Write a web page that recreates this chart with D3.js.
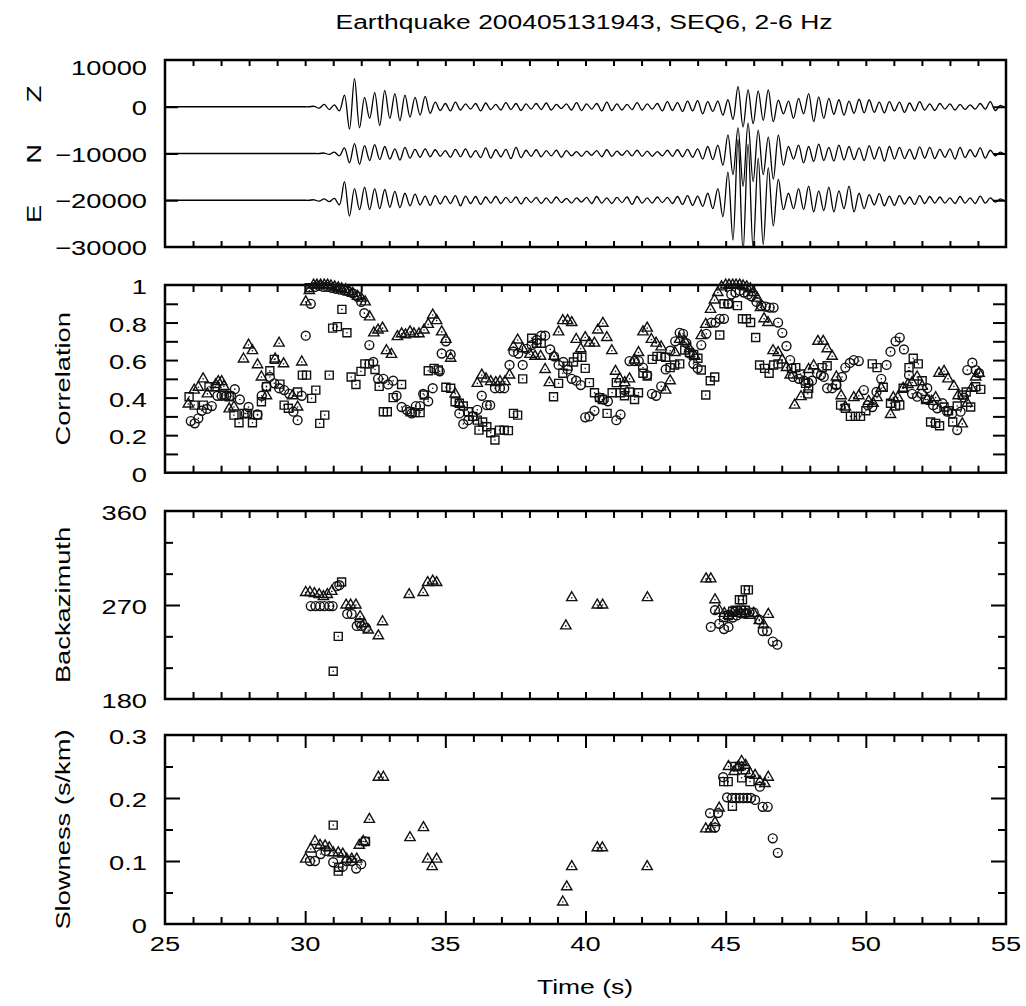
<!DOCTYPE html>
<html><head><meta charset="utf-8">
<script src="https://cdn.jsdelivr.net/npm/d3@7"></script>
<style>
body{margin:0;background:#fff}
svg{display:block}
text{font-family:"Liberation Sans",Arial,Helvetica,sans-serif;fill:#000}
</style>
</head><body>
<svg id="c" width="1026" height="1006"></svg>
<script>
// ---------------- DATA ----------------
const title = "Earthquake 200405131943, SEQ6, 2-6 Hz";
const xTicksMajor = [25, 30, 35, 40, 45, 50, 55];
const traceNames = ["Z", "N", "E"];
const traceOffsets = [0, -10000, -20000];
const traceStart = 29.6, traceStep = 0.18; // time of first listed extremum, spacing of extrema
const traceZ = [0,0,0,0,100,-300,500,-600,400,-900,
 2500,-4800,6000,-4500,2000,-2500,3000,-4000,3500,-2500,
 2800,-3000,2500,-2200,2000,-1800,2200,-1400,1000,-800,
 700,-900,1000,-700,600,-500,700,-900,800,-600,
 500,-700,900,-600,700,-800,600,-500,700,-600,
 800,-700,500,-400,600,-700,900,-800,600,-500,
 700,-900,1000,-800,600,-700,500,-600,900,-700,
 600,-500,700,-900,1100,-800,900,-1000,1200,-900,
 1300,-1500,1100,-1000,1200,-1800,1500,-2700,4300,-4300,
 3600,-3600,3400,-2900,3600,-3200,1400,-1500,1200,-2500,
 1800,-1500,2800,-3200,2100,-2500,1800,-1600,1500,-1800,
 1200,-1400,1600,-1300,1500,-1200,1000,-1300,1100,-900,
 1000,-1200,800,-900,1100,-700,600,-800,700,-500,
 600,-700,500,-600,400,-500,700,-500,1100,-800,300,-200];
const traceN = [0,0,0,0,0,0,100,-200,300,-500,
 1200,-2000,2100,-2300,1700,-1500,1900,-1300,1500,-1200,
 1000,-1400,1300,-1000,900,-800,1000,-700,800,-600,
 600,-800,900,-700,1000,-800,600,-900,1200,-1000,
 800,-700,900,-1100,1300,-900,700,-600,800,-700,
 600,-500,700,-800,600,-500,400,-600,500,-400,
 600,-700,800,-600,500,-400,600,-500,700,-600,
 500,-600,400,-500,700,-600,800,-700,900,-800,
 1000,-1200,1500,-1300,1800,-2500,4000,-4500,5500,-7000,
 6500,-6000,5000,-4500,3500,-5500,4000,-2500,1500,-1200,
 1800,-2000,1500,-1700,2000,-1500,1300,-1600,1800,-1400,
 1500,-1300,1200,-1500,1700,-1200,1400,-1600,1500,-1200,
 1300,-1100,900,-1200,1400,-1000,1300,-1100,900,-800,
 1000,-1200,1300,-900,800,-700,1200,-1000,700,-500,300,-200];
const traceE = [0,0,0,0,100,-200,300,-300,400,-1000,
 4000,-3400,2500,-2000,2800,-2000,2500,-1800,2300,-1500,
 1900,-1600,1500,-1200,1300,-1000,900,-1100,1000,-800,
 900,-700,1000,-1200,900,-700,800,-900,700,-600,
 800,-700,600,-500,700,-800,600,-500,600,-700,
 500,-600,700,-500,400,-600,500,-400,600,-700,
 800,-600,500,-700,600,-500,700,-900,800,-600,
 500,-600,700,-500,600,-700,800,-900,1000,-1100,
 900,-1300,1500,-1800,2500,-3500,6000,-8500,13000,-11000,
 12000,-10500,9000,-9500,7000,-5500,4500,-2000,1500,-1800,
 2500,-2000,3000,-2500,2000,-2200,2800,-2500,2000,-1800,
 3000,-2500,1500,-1800,1200,-1000,1400,-1200,900,-1100,
 1000,-800,700,-900,1000,-700,800,-600,700,-600,
 500,-700,800,-600,500,-700,900,-600,500,-400,300,-200];

// Correlation [time, value]
const corrCircle = [[25.92,.275],[26.06,.263],[26.19,.29],[26.31,.33],[26.5,.34],[26.67,.355],[26.87,.41],[27.02,.41],[27.19,.41],[27.35,.41],[27.49,.445],[27.67,.39],[27.88,.315],[27.98,.35],[28.3,.31],[28.45,.41],[28.62,.46],[28.74,.51],[28.9,.476],[29.07,.45],[29.25,.44],[29.43,.42],[29.58,.325],[29.73,.28],[29.88,.41],[30.02,.73],[30.2,.9],[30.35,.99],[30.5,.995],[30.65,.99],[30.8,.99],[30.95,.985],[31.1,.98],[31.25,.975],[31.4,.97],[31.55,.965],[31.7,.955],[31.85,.94],[32.0,.91],[32.11,.85],[32.29,.68],[32.43,.59],[32.6,.5],[32.79,.5],[32.96,.47],[33.14,.49],[33.26,.41],[33.44,.35],[33.62,.335],[33.8,.316],[33.95,.355],[34.1,.355],[34.21,.42],[34.39,.38],[34.55,.45],[34.8,.54],[34.87,.635],[35.02,.7],[35.19,.63],[35.5,.316],[35.64,.26],[35.82,.28],[35.98,.3],[36.14,.335],[36.3,.41],[36.48,.36],[36.6,.36],[36.77,.45],[36.95,.45],[37.1,.45],[37.29,.574],[37.43,.645],[37.6,.635],[37.76,.574],[37.9,.66],[38.08,.68],[38.26,.707],[38.42,.73],[38.56,.73],[38.74,.657],[38.88,.62],[39.04,.574],[39.21,.59],[39.36,.55],[39.51,.5],[39.67,.49],[39.83,.467],[39.99,.295],[40.14,.3],[40.32,.33],[40.5,.4],[40.65,.39],[40.8,.38],[41.1,.28],[41.25,.31],[41.39,.44],[41.57,.595],[41.75,.595],[41.9,.595],[42.05,.56],[42.2,.52],[42.37,.42],[42.52,.41],[42.7,.46],[42.86,.55],[43.02,.65],[43.2,.7],[43.36,.745],[43.48,.74],[43.6,.69],[43.71,.636],[43.85,.58],[44.0,.556],[44.13,.68],[44.31,.74],[44.49,.8],[44.64,.8],[44.79,.82],[44.94,.82],[45.08,.9],[45.2,.95],[45.35,.96],[45.5,.97],[45.65,.96],[45.8,.95],[45.92,.94],[46.1,.91],[46.27,.89],[46.43,.885],[46.57,.88],[46.71,.88],[46.87,.8],[47.02,.745],[47.17,.675],[47.3,.6],[47.4,.51],[47.61,.5],[47.79,.49],[47.95,.48],[48.08,.49],[48.26,.53],[48.4,.52],[48.5,.51],[48.62,.45],[48.8,.45],[48.95,.467],[49.15,.51],[49.27,.56],[49.43,.585],[49.57,.6],[49.75,.595],[49.93,.44],[50.07,.36],[50.23,.35],[50.38,.43],[50.55,.5],[50.74,.574],[50.88,.645],[51.06,.7],[51.21,.72],[51.36,.657],[51.54,.52],[51.65,.42],[51.83,.405],[52.0,.42],[52.19,.45],[52.4,.36],[52.55,.343],[52.73,.37],[52.9,.325],[53.08,.316],[53.26,.227],[53.38,.325],[53.5,.4],[53.62,.547],[53.8,.586],[53.92,.547],[54.04,.53]];
const corrSquare = [[25.86,.405],[26.04,.36],[26.37,.36],[26.57,.458],[26.79,.458],[27.11,.414],[27.29,.405],[27.46,.307],[27.64,.266],[27.82,.316],[27.94,.316],[28.12,.266],[28.3,.307],[28.44,.378],[28.62,.458],[28.74,.543],[28.9,.604],[29.1,.472],[29.25,.36],[29.4,.343],[29.73,.43],[29.9,.52],[30.05,.52],[30.14,.985],[30.23,.396],[30.38,.44],[30.52,.263],[30.7,.307],[30.86,.52],[30.98,.77],[31.15,.778],[31.31,.87],[31.49,.746],[31.64,.51],[31.81,.47],[31.99,.54],[32.13,.58],[32.29,.58],[32.49,.55],[32.64,.46],[32.79,.325],[32.93,.325],[33.14,.4],[33.44,.47],[33.74,.325],[33.92,.32],[34.1,.32],[34.25,.414],[34.39,.543],[34.6,.556],[34.75,.547],[35.02,.455],[35.19,.45],[35.35,.378],[35.5,.37],[35.64,.355],[35.82,.325],[35.98,.3],[36.14,.28],[36.2,.227],[36.33,.27],[36.48,.245],[36.62,.213],[36.77,.174],[36.93,.227],[37.1,.227],[37.25,.224],[37.43,.316],[37.58,.307],[37.76,.5],[38.08,.716],[38.26,.69],[38.42,.69],[38.86,.405],[39.04,.476],[39.19,.53],[39.37,.568],[39.57,.59],[39.71,.615],[39.87,.615],[39.99,.556],[40.14,.48],[40.32,.426],[40.5,.4],[40.6,.39],[40.77,.316],[40.95,.426],[41.1,.48],[41.24,.426],[41.39,.41],[41.57,.43],[41.75,.39],[41.89,.426],[42.05,.53],[42.2,.515],[42.38,.604],[42.55,.62],[42.7,.62],[42.86,.615],[43.02,.56],[43.18,.574],[43.36,.58],[43.54,.654],[43.71,.64],[43.86,.63],[44.01,.61],[44.13,.547],[44.29,.414],[44.45,.49],[44.61,.51],[44.79,.734],[44.94,.9],[45.11,.9],[45.42,.89],[45.6,.82],[45.74,.82],[45.89,.8],[46.07,.72],[46.21,.574],[46.39,.556],[46.55,.53],[46.71,.574],[46.87,.58],[47.35,.556],[47.5,.56],[47.67,.526],[47.85,.476],[47.93,.42],[47.96,.45],[48.44,.56],[48.62,.57],[48.95,.47],[49.1,.36],[49.27,.343],[49.45,.3],[49.63,.3],[49.81,.3],[50.0,.33],[50.23,.58],[50.4,.56],[50.62,.455],[50.88,.37],[51.06,.355],[51.21,.36],[51.33,.45],[51.54,.56],[51.69,.61],[51.87,.58],[52.01,.49],[52.13,.39],[52.31,.27],[52.49,.263],[52.63,.25],[52.79,.35],[52.95,.33],[53.1,.27],[53.26,.355],[53.44,.414],[53.58,.43],[53.74,.35],[53.92,.458],[54.1,.444]];
const corrTriangle = [[25.83,.366],[26.04,.44],[26.19,.455],[26.36,.5],[26.51,.42],[26.81,.47],[26.9,.485],[27.02,.485],[27.1,.46],[27.29,.34],[27.46,.35],[27.8,.606],[27.98,.68],[28.12,.65],[28.3,.575],[28.44,.51],[28.62,.41],[28.93,.606],[29.07,.69],[29.23,.58],[29.55,.41],[29.73,.35],[29.88,.59],[30.02,.91],[30.15,.97],[30.3,1],[30.42,1],[30.55,1],[30.68,1],[30.8,1],[30.92,.995],[31.05,.99],[31.18,.985],[31.3,.98],[31.45,.975],[31.57,.965],[31.7,.955],[31.87,.94],[32.0,.93],[32.14,.91],[32.3,.83],[32.45,.745],[32.6,.76],[32.76,.77],[32.9,.65],[33.08,.63],[33.29,.725],[33.44,.74],[33.58,.735],[33.74,.75],[33.88,.74],[34.06,.74],[34.24,.76],[34.39,.79],[34.55,.84],[34.69,.81],[34.87,.75],[35.02,.71],[35.19,.61],[35.35,.42],[35.5,.37],[36.14,.476],[36.3,.52],[36.45,.5],[36.62,.485],[36.8,.48],[36.95,.485],[37.13,.485],[37.29,.52],[37.43,.67],[37.58,.707],[37.76,.66],[38.02,.63],[38.2,.62],[38.4,.62],[38.56,.55],[38.71,.48],[38.88,.62],[39.04,.75],[39.19,.81],[39.36,.81],[39.51,.8],[39.67,.71],[39.83,.66],[39.99,.72],[40.14,.69],[40.32,.69],[40.44,.76],[40.62,.796],[40.76,.72],[40.94,.65],[41.07,.54],[41.22,.5],[41.4,.48],[41.57,.5],[41.75,.6],[41.89,.64],[42.05,.75],[42.2,.77],[42.35,.71],[42.52,.69],[42.7,.67],[42.86,.44],[43.02,.49],[43.19,.64],[43.36,.71],[43.54,.7],[43.71,.66],[43.9,.62],[44.13,.73],[44.29,.79],[44.46,.87],[44.6,.92],[44.72,.96],[44.85,.99],[45.0,1],[45.12,1],[45.25,1],[45.37,1],[45.5,1],[45.62,.995],[45.75,.99],[45.88,.98],[46.0,.96],[46.12,.93],[46.24,.88],[46.37,.82],[46.51,.8],[46.69,.65],[46.87,.64],[47.02,.6],[47.17,.56],[47.3,.52],[47.46,.36],[47.69,.405],[47.96,.55],[48.14,.57],[48.29,.7],[48.48,.7],[48.62,.66],[48.8,.62],[48.95,.51],[49.12,.41],[49.27,.35],[49.57,.4],[49.75,.41],[50.1,.38],[50.26,.37],[50.4,.4],[50.55,.45],[50.88,.31],[50.98,.4],[51.14,.4],[51.33,.45],[51.5,.47],[51.65,.48],[51.83,.51],[52.01,.46],[52.19,.39],[52.35,.38],[52.49,.4],[52.61,.53],[52.79,.54],[52.93,.5],[53.14,.46],[53.29,.41],[53.44,.26],[53.62,.37],[53.77,.45],[53.92,.51],[54.04,.53]];

// Backazimuth [time, degrees]
const bazCircle = [[30.2,269],[30.37,269],[30.53,269],[30.68,269],[30.86,269],[30.98,269],[31.13,288],[31.22,289],[31.5,261.5],[31.66,261.5],[31.84,250],[31.94,253],[32.0,250],[32.17,248],[44.47,249],[44.62,265],[44.77,252],[44.94,247],[45.1,249],[45.25,258],[45.4,260],[45.55,262],[45.7,262],[45.85,263],[46.0,263],[46.2,256],[46.32,245],[46.48,245],[46.68,235],[46.84,232]];
const bazSquare = [[31.0,206.5],[31.18,240],[31.3,292],[44.93,258],[45.1,260],[45.25,264],[45.34,265],[45.49,275],[45.6,275],[45.55,265],[45.7,265],[45.7,284.5],[45.81,284.5]];
const bazTriangle = [[30.02,282],[30.17,282],[30.33,281],[30.5,280],[30.65,278],[30.79,280],[30.95,283],[31.46,270],[31.62,270],[31.81,270],[31.96,259],[32.1,252],[32.25,246],[32.61,240.5],[32.76,254],[33.71,280],[34.21,282],[34.37,291.5],[34.55,293],[34.69,291.5],[39.3,250],[39.51,277],[40.42,270],[40.61,270],[42.21,277],[44.3,295],[44.47,295],[44.62,275],[44.77,265],[44.95,262],[45.1,260],[45.25,262],[45.4,262],[45.55,262],[45.7,262],[45.85,260],[46.0,262],[46.2,255],[46.35,251],[46.52,261]];

// Slowness [time, s/km]
const slowCircle = [[30.17,.1],[30.35,.1],[30.55,.111],[30.73,.116],[31.0,.098],[31.34,.091],[31.48,.1],[31.66,.1],[31.82,.088],[32.0,.095],[32.14,.131],[44.44,.176],[44.62,.153],[44.73,.176],[44.91,.233],[45.05,.201],[45.23,.2],[45.36,.2],[45.5,.2],[45.63,.2],[45.77,.2],[45.9,.2],[46.05,.197],[46.22,.218],[46.32,.186],[46.5,.186],[46.68,.136],[46.86,.113]];
const slowSquare = [[31.0,.157],[31.18,.084],[31.2,.09],[32.15,.131],[44.93,.226],[45.09,.226],[45.24,.187],[45.33,.25],[45.5,.25],[45.57,.232],[45.7,.245],[45.87,.226]];
const slowTriangle = [[30.02,.103],[30.2,.119],[30.35,.131],[30.53,.125],[30.71,.124],[30.86,.121],[31.0,.113],[31.18,.113],[31.34,.111],[31.48,.103],[31.66,.103],[31.84,.103],[31.93,.125],[32.07,.131],[32.29,.166],[32.61,.233],[32.79,.233],[33.74,.137],[34.22,.153],[34.37,.103],[34.53,.091],[34.69,.103],[39.19,.035],[39.33,.059],[39.51,.091],[40.42,.121],[40.6,.121],[42.2,.091],[44.29,.151],[44.46,.151],[44.62,.161],[44.77,.184],[45.1,.25],[45.3,.242],[45.45,.25],[45.57,.258],[45.71,.252],[45.87,.239],[46.05,.236],[46.22,.226],[46.4,.223],[46.52,.233]];

const p1Ticks = [10000, 0, -10000, -20000, -30000];
const p1Labels = ["10000", "0", "\u221210000", "\u221220000", "\u221230000"];
const corrTicks = [0,0.1,0.2,0.3,0.4,0.5,0.6,0.7,0.8,0.9,1];
const corrLabels = [[0,"0"],[0.2,"0.2"],[0.4,"0.4"],[0.6,"0.6"],[0.8,"0.8"],[1,"1"]];
const bazMinor = [210,240,300,330];
const bazMajor = [270];
const bazLabels = [[180,"180"],[270,"270"],[360,"360"]];
const slowMinor = [0.05,0.15,0.25];
const slowMajor = [0.1,0.2];
const slowLabels = [[0,"0"],[0.1,"0.1"],[0.2,"0.2"],[0.3,"0.3"]];

// ---------------- DRAW ----------------
const svg = d3.select("#c");
const SX = 1.3, FS = 21;
const x = d3.scaleLinear().domain([25,55]).range([165,1006]);
const L = 165, R = 1006;
const panels = [
  {y: d3.scaleLinear().domain([-30000,10000]).range([247,60])},
  {y: d3.scaleLinear().domain([0,1]).range([472.7,285])},
  {y: d3.scaleLinear().domain([180,360]).range([699,511])},
  {y: d3.scaleLinear().domain([0,0.3]).range([924,735])}
];
const xMinor = d3.range(26,55);

function txt(s, px, py, anchor, rot, size, sx) {
  const g = svg.append("g").attr("transform", `translate(${px},${py}) rotate(${rot||0}) scale(${sx||SX},1)`);
  g.append("text").attr("text-anchor", anchor || "middle").attr("font-size", size || FS).text(s);
}

function axes(p, xs, xLen, yl) {
  const y = p.y, [yb, yt] = y.range();
  const g = svg.append("g");
  for (const [vals, len] of xs) {
    const ab = d3.axisBottom(x).tickValues(vals).tickSizeInner(-len).tickSizeOuter(0).tickFormat("");
    const at = d3.axisTop(x).tickValues(vals).tickSizeInner(-len).tickSizeOuter(0).tickFormat("");
    g.append("g").attr("transform", `translate(0,${yb})`).call(ab);
    g.append("g").attr("transform", `translate(0,${yt})`).call(at);
  }
  for (const [vals, len] of yl) {
    g.append("g").attr("transform", `translate(${L},0)`).call(d3.axisLeft(y).tickValues(vals).tickSizeInner(-len).tickSizeOuter(0).tickFormat(""));
    g.append("g").attr("transform", `translate(${R},0)`).call(d3.axisRight(y).tickValues(vals).tickSizeInner(-len).tickSizeOuter(0).tickFormat(""));
  }
  g.selectAll(".domain").remove();
  g.selectAll("line").attr("stroke", "#000").attr("stroke-width", 2);
  svg.append("rect").attr("x", L).attr("y", yt).attr("width", R - L).attr("height", yb - yt)
    .attr("fill", "none").attr("stroke", "#000").attr("stroke-width", 2.5);
}

// Title
txt(title, 584, 29, "middle", 0, 21, 1.26);

// ---- Panel 1: seismograms
const p1 = panels[0];
svg.append("clipPath").attr("id", "clip1").append("rect")
  .attr("x", L).attr("y", 60).attr("width", R - L).attr("height", 187);
const line1 = d3.line().x(d => x(d[0])).y(d => p1.y(d[1])).curve(d3.curveCatmullRom.alpha(0.5));
[traceZ, traceN, traceE].forEach((arr, k) => {
  const off = traceOffsets[k];
  const pts = [[25, off]].concat(arr.map((v, i) => [traceStart + i * traceStep, off + v]));
  pts.push([55, off]);
  svg.append("path").attr("d", line1(pts)).attr("fill", "none").attr("stroke", "#000")
    .attr("stroke-width", 1.3).attr("clip-path", "url(#clip1)");
});
axes(p1, [[xMinor, 6]], 0, [[p1Ticks.slice(1, 4), 13]]);
p1Ticks.forEach((v, i) => txt(p1Labels[i], 147, (i === 0 ? 75 : p1.y(v) + 8), "end"));
const nameY = [94, 154, 214];
traceNames.forEach((n, i) => txt(n, 41, nameY[i], "middle", -90));

// ---- scatter helper
const symCircle = d3.symbol().type(d3.symbolCircle).size(62)();
const symSquare = d3.symbol().type(d3.symbolSquare).size(64)();
const symTri = d3.symbol().type(d3.symbolTriangle).size(46)();
function scatter(p, data, sym) {
  const g = svg.append("g");
  const m = g.selectAll("g").data(data).join("g")
    .attr("transform", d => `translate(${x(d[0])},${p.y(d[1])})`);
  m.append("path").attr("d", sym).attr("fill", "none").attr("stroke", "#111").attr("stroke-width", 1.4);
  m.append("circle").attr("r", 0.8).attr("fill", "#111");
}

// ---- Panel 2: correlation
const p2 = panels[1];
axes(p2, [[xMinor, 7]], 0, [[corrTicks.slice(1, 10), 13]]);
scatter(p2, corrCircle, symCircle);
scatter(p2, corrSquare, symSquare);
scatter(p2, corrTriangle, symTri);
corrLabels.forEach(([v, s]) => txt(s, 147, p2.y(v) + 9, "end"));
txt("Correlation", 70, (285 + 472.7) / 2, "middle", -90);

// ---- Panel 3: backazimuth
const p3 = panels[2];
axes(p3, [[xMinor, 7]], 0, [[bazMinor, 8], [bazMajor, 15]]);
scatter(p3, bazCircle, symCircle);
scatter(p3, bazSquare, symSquare);
scatter(p3, bazTriangle, symTri);
bazLabels.forEach(([v, s]) => txt(s, 147, p3.y(v) + 9, "end"));
txt("Backazimuth", 70, (511 + 699) / 2, "middle", -90);

// ---- Panel 4: slowness
const p4 = panels[3];
axes(p4, [[xMinor.filter(v => v % 5 !== 0), 7], [xTicksMajor.slice(1, 6), 13]], 0, [[slowMinor, 8], [slowMajor, 15]]);
scatter(p4, slowCircle, symCircle);
scatter(p4, slowSquare, symSquare);
scatter(p4, slowTriangle, symTri);
slowLabels.forEach(([v, s]) => txt(s, 147, p4.y(v) + 9, "end"));
txt("Slowness (s/km)", 70, (735 + 924) / 2, "middle", -90);

// x tick labels & title
xTicksMajor.forEach(v => txt(String(v), x(v), 951, "middle"));
txt("Time (s)", 585, 994, "middle", 0, 21, 1.26);
</script>
</body></html>
